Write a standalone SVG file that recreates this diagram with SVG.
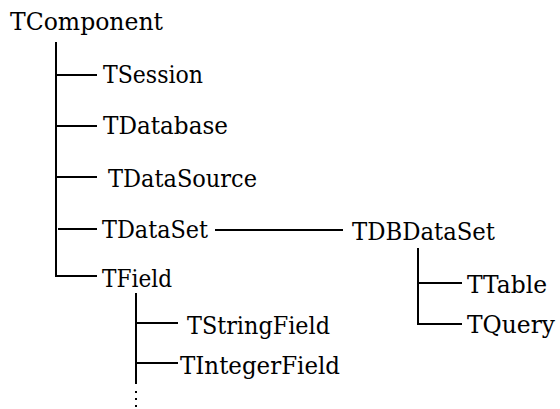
<svg xmlns="http://www.w3.org/2000/svg" width="560" height="409" viewBox="0 0 560 409">
  <style>
    .lbl { font-family: "DejaVu Serif", "Liberation Serif", serif; font-size: 24px; fill: #000; }
    .edge { stroke: #000; stroke-width: 2; fill: none; }
    .dot { fill: #000; }
  </style>
  <rect width="560" height="409" fill="#fff"/>

  <!-- tree connectors -->
  <g id="connectors">
    <path class="edge" d="M56,42 V276 H97"/>
    <path class="edge" d="M56,75 H97"/>
    <path class="edge" d="M56,126 H97"/>
    <path class="edge" d="M56,177 H97"/>
    <path class="edge" d="M58,229 H97"/>
    <path class="edge" d="M215,230 H343"/>
    <path class="edge" d="M136,293 V384"/>
    <path class="edge" d="M136,323 H178"/>
    <path class="edge" d="M136,363 H178"/>
    <path class="edge" d="M418,248 V324 H462"/>
    <path class="edge" d="M418,283 H462"/>
    <rect class="dot" x="135" y="391" width="2" height="2"/>
    <rect class="dot" x="135" y="398" width="2" height="2"/>
    <rect class="dot" x="135" y="405" width="2" height="2"/>
  </g>

  <g id="TComponent"><text class="lbl" x="10" y="30" textLength="153" lengthAdjust="spacingAndGlyphs">TComponent</text></g>
  <g id="TSession"><text class="lbl" x="103" y="83" textLength="100" lengthAdjust="spacingAndGlyphs">TSession</text></g>
  <g id="TDatabase"><text class="lbl" x="103" y="134" textLength="125" lengthAdjust="spacingAndGlyphs">TDatabase</text></g>
  <g id="TDataSource"><text class="lbl" x="108" y="187" textLength="149" lengthAdjust="spacingAndGlyphs">TDataSource</text></g>
  <g id="TDataSet"><text class="lbl" x="102" y="238" textLength="106" lengthAdjust="spacingAndGlyphs">TDataSet</text></g>
  <g id="TDBDataSet"><text class="lbl" x="352" y="240" textLength="143" lengthAdjust="spacingAndGlyphs">TDBDataSet</text></g>
  <g id="TField"><text class="lbl" x="102" y="287" textLength="70" lengthAdjust="spacingAndGlyphs">TField</text></g>
  <g id="TTable"><text class="lbl" x="467" y="293" textLength="80" lengthAdjust="spacingAndGlyphs">TTable</text></g>
  <g id="TQuery"><text class="lbl" x="467" y="333" textLength="88" lengthAdjust="spacingAndGlyphs">TQuery</text></g>
  <g id="TStringField"><text class="lbl" x="187" y="334" textLength="143" lengthAdjust="spacingAndGlyphs">TStringField</text></g>
  <g id="TIntegerField"><text class="lbl" x="180" y="374" textLength="160" lengthAdjust="spacingAndGlyphs">TIntegerField</text></g>
</svg>
